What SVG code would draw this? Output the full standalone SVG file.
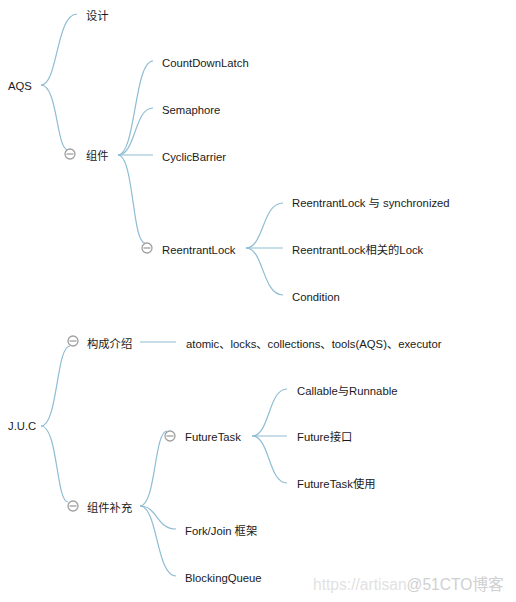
<svg xmlns="http://www.w3.org/2000/svg" width="516" height="602" viewBox="0 0 516 602">
<style>
text{font-family:"Liberation Sans","Noto Sans CJK SC",sans-serif;font-size:11.3px;fill:#1a1a1a;dominant-baseline:central}
.c{fill:none;stroke:#8fbdd3;stroke-width:1.2}
.t circle{fill:#fff;stroke:#a0a0a0;stroke-width:1.3}
.t line{stroke:#a0a0a0;stroke-width:1.3}
.wm{font-size:15.6px;fill:#e2e2e2;dominant-baseline:auto}
</style>
<rect width="516" height="602" fill="#fff"/>
<g id="connectors">
<path class="c" d="M41 85 C58 85 56 14 77 14"/>
<path class="c" d="M41 85 C58 85 56 150 68 150"/>
<path class="c" d="M118 155 C136 155 134 61 153 61"/>
<path class="c" d="M118 155 C136 155 134 108 153 108"/>
<path class="c" d="M118 155 L153 155"/>
<path class="c" d="M118 155 C134 155 132 243 145 243"/>
<path class="c" d="M246 248 C264 248 262 203 283 203"/>
<path class="c" d="M246 248 L283 248"/>
<path class="c" d="M246 248 C264 248 262 295 283 295"/>
<path class="c" d="M41 426 C58 426 56 346 70 346"/>
<path class="c" d="M41 426 C58 426 56 502 68 502"/>
<path class="c" d="M140 342 L176 342"/>
<path class="c" d="M140 506 C156 506 154 431 167 431"/>
<path class="c" d="M140 506 C158 506 156 529 176 529"/>
<path class="c" d="M140 506 C158 506 156 576 176 576"/>
<path class="c" d="M252 436 C270 436 268 389 287 389"/>
<path class="c" d="M252 436 L287 436"/>
<path class="c" d="M252 436 C270 436 268 483 287 483"/>
</g>
<g id="aqs"><text x="8" y="86">AQS</text></g>
<g id="design"><text x="86" y="16">设计</text></g>
<g id="components" class="t"><circle cx="70" cy="154" r="5"/><line x1="66.5" y1="154" x2="73.5" y2="154"/><text x="86" y="156">组件</text></g>
<g id="countdownlatch"><text x="162" y="63">CountDownLatch</text></g>
<g id="semaphore"><text x="162" y="110">Semaphore</text></g>
<g id="cyclicbarrier"><text x="162" y="157">CyclicBarrier</text></g>
<g id="reentrantlock" class="t"><circle cx="147" cy="248" r="5"/><line x1="143.5" y1="248" x2="150.5" y2="248"/><text x="162" y="250">ReentrantLock</text></g>
<g id="rl-sync"><text x="292" y="203">ReentrantLock 与 synchronized</text></g>
<g id="rl-lock"><text x="292" y="250">ReentrantLock相关的Lock</text></g>
<g id="condition"><text x="292" y="297">Condition</text></g>
<g id="juc"><text x="8" y="426">J.U.C</text></g>
<g id="composition" class="t"><circle cx="73" cy="341" r="5"/><line x1="69.5" y1="341" x2="76.5" y2="341"/><text x="87" y="344">构成介绍</text></g>
<g id="atomic"><text x="186" y="344">atomic、locks、collections、tools(AQS)、executor</text></g>
<g id="supplement" class="t"><circle cx="73" cy="506" r="5"/><line x1="69.5" y1="506" x2="76.5" y2="506"/><text x="87" y="508">组件补充</text></g>
<g id="futuretask" class="t"><circle cx="170" cy="436" r="5"/><line x1="166.5" y1="436" x2="173.5" y2="436"/><text x="185" y="437">FutureTask</text></g>
<g id="callable"><text x="297" y="391">Callable与Runnable</text></g>
<g id="future"><text x="297" y="437">Future接口</text></g>
<g id="futuretask-use"><text x="297" y="484">FutureTask使用</text></g>
<g id="forkjoin"><text x="185" y="531">Fork/Join 框架</text></g>
<g id="blockingqueue"><text x="185" y="578">BlockingQueue</text></g>
<text class="wm" x="313" y="590">https://artisan<tspan fill="#d0d0d0">@51CTO博客</tspan></text>
</svg>
